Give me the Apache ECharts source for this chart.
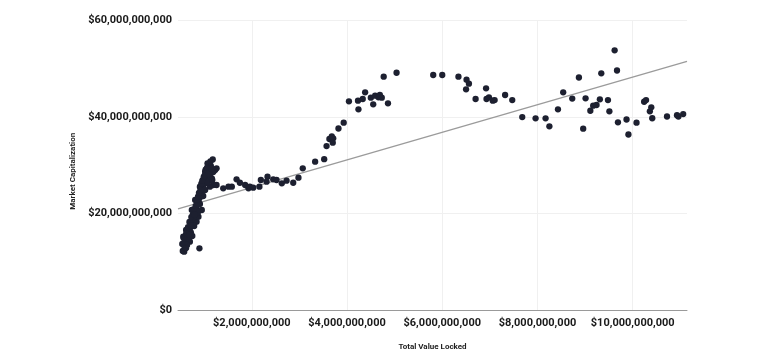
<!DOCTYPE html>
<html>
<head>
<meta charset="utf-8">
<script src="https://cdn.jsdelivr.net/npm/echarts@6/dist/echarts.min.js"></script>
<style>
html,body{margin:0;padding:0;background:#fff;}
#chart{width:779px;height:360px;}
</style>
</head>
<body>
<div id="chart"></div>
<script>
// Total Value Locked (billions USD)
const tvl = [
0.55,0.58,0.60,0.56,0.60,0.63,0.67,0.70,0.58,0.67,0.72,0.54,0.64,0.70,0.74,0.77,0.76,0.81,0.83,0.86,
0.88,0.90,0.93,0.95,0.97,1.00,0.98,1.04,1.05,1.02,1.09,1.11,1.07,1.18,0.84,0.88,0.95,1.16,1.19,1.23,
1.26,1.12,0.74,0.81,0.91,0.90,0.77,0.79,0.68,0.75,0.62,0.87,0.91,0.98,1.02,1.08,1.12,1.19,1.14,1.17,
0.57,0.62,0.66,0.69,0.72,0.73,0.78,0.80,0.82,0.85,0.87,0.89,0.92,0.94,0.96,0.99,1.01,1.03,1.06,1.10,
1.13,1.15,0.59,0.62,0.65,0.69,
1.26,1.40,1.51,1.58,1.68,1.75,1.86,1.93,1.96,2.03,2.16,2.19,2.33,2.31,2.45,2.52,2.63,2.73,2.87,2.98,
3.07,3.33,3.52,3.57,3.63,3.68,3.71,3.70,3.82,3.93,4.04,4.23,4.24,4.33,4.38,4.50,4.55,4.59,4.66,4.69,
4.73,4.86,4.77,5.04,5.81,6.00,6.34,6.51,6.56,6.50,6.70,6.92,6.93,6.98,7.06,7.10,7.32,7.47,7.68,7.96,
8.17,8.25,8.43,8.54,8.73,8.87,8.96,9.01,9.11,9.17,9.24,9.31,9.34,9.48,9.51,9.62,9.67,9.69,9.87,9.91,
10.08,10.24,10.28,10.36,10.39,10.41,10.72,10.93,10.96,11.06
];
// Market Capitalization (billions USD)
const marketCap = [
12.29,12.14,12.85,15.24,14.56,14.21,14.91,14.21,13.88,15.59,16.15,13.73,13.53,16.98,18.01,18.69,19.72,20.40,21.11,21.79,
22.47,23.17,23.85,24.54,25.36,26.06,26.95,27.30,28.13,28.67,29.02,29.90,30.40,31.19,18.34,19.37,20.76,27.30,25.92,29.02,
29.37,25.57,20.76,22.82,25.57,12.85,19.10,17.45,16.21,15.39,16.63,20.34,22.00,23.65,24.89,26.54,27.78,28.60,29.84,26.95,
14.90,15.80,17.20,18.30,17.60,19.30,20.90,19.80,21.60,22.90,23.50,24.30,24.90,26.20,26.80,27.60,27.90,29.10,29.50,28.30,
30.80,29.30,13.10,12.90,15.00,15.60,
25.92,25.24,25.57,25.57,27.10,26.39,25.92,25.24,25.57,25.36,25.57,26.95,27.63,26.60,27.10,26.95,26.27,26.81,26.39,27.43,
29.37,30.73,31.25,33.97,35.42,35.98,35.56,34.66,37.59,38.79,43.21,43.33,41.55,43.68,45.06,43.95,42.59,44.36,44.03,44.51,
43.95,42.79,48.29,49.11,48.64,48.64,48.29,47.67,46.84,45.68,43.68,45.89,43.68,44.03,43.33,43.47,44.51,43.47,39.96,39.69,
39.69,38.04,41.55,45.06,43.78,48.12,37.55,43.83,41.26,42.30,42.44,43.62,48.99,43.47,41.14,53.74,49.57,38.87,39.45,36.35,
38.79,43.12,43.47,41.14,41.97,39.71,40.07,40.33,40.07,40.58
];
// Linear trend line (billions): marketCap = intercept + slope * tvl
const trendIntercept = 19.68;
const trendSlope = 2.854;
// Axis ranges (billions)
const xRange = [0.45, 11.14];
const yTicks = [0, 20, 60];

const B = 1e9;
const points = tvl.map((v, i) => [v * B, marketCap[i] * B]);
const trend = xRange.map(x => [x * B, (trendIntercept + trendSlope * x) * B]);

const money = v => '$' + Math.round(v).toLocaleString('en-US');
const font = 'Roboto, "Noto Sans", sans-serif';

const chart = echarts.init(document.getElementById('chart'), null, {renderer: 'canvas'});
chart.setOption({
  backgroundColor: '#ffffff',
  animation: false,
  grid: {left: 178, right: 92, top: 20, bottom: 49.5},
  xAxis: {
    type: 'value',
    min: xRange[0] * B,
    max: xRange[1] * B,
    splitNumber: 5,
    name: 'Total Value Locked',
    nameLocation: 'middle',
    nameGap: 32,
    nameTextStyle: {fontFamily: font, fontSize: 8, fontWeight: 'bold', color: '#222'},
    axisLine: {show: true, lineStyle: {color: '#9a9a9a', width: 1}},
    axisTick: {show: false},
    axisLabel: {
      formatter: money, showMinLabel: false, showMaxLabel: false, margin: 7,
      fontFamily: font, fontSize: 11, fontWeight: 'bold', color: '#1a1a1a'
    },
    splitLine: {show: true, showMinLine: false, showMaxLine: false, lineStyle: {color: '#f0f0f0', width: 1}}
  },
  yAxis: {
    type: 'value',
    min: yTicks[0] * B,
    max: yTicks[2] * B,
    interval: yTicks[1] * B,
    name: 'Market Capitalization',
    nameLocation: 'middle',
    nameGap: 100,
    nameTextStyle: {fontFamily: font, fontSize: 8, fontWeight: 'bold', color: '#222', padding: [0, 12, 0, 0]},
    axisLine: {show: false},
    axisTick: {show: false},
    axisLabel: {formatter: money, margin: 6, fontFamily: font, fontSize: 11, fontWeight: 'bold', color: '#1a1a1a'},
    splitLine: {show: true, lineStyle: {color: '#f0f0f0', width: 1}}
  },
  series: [
    {
      type: 'line',
      data: trend,
      showSymbol: false,
      symbol: 'none',
      lineStyle: {color: '#9b9b9b', width: 1.3},
      z: 1,
      silent: true
    },
    {
      type: 'scatter',
      data: points,
      symbolSize: 6.3,
      itemStyle: {color: '#1d2030', opacity: 1},
      z: 2
    }
  ]
});
</script>
</body>
</html>
